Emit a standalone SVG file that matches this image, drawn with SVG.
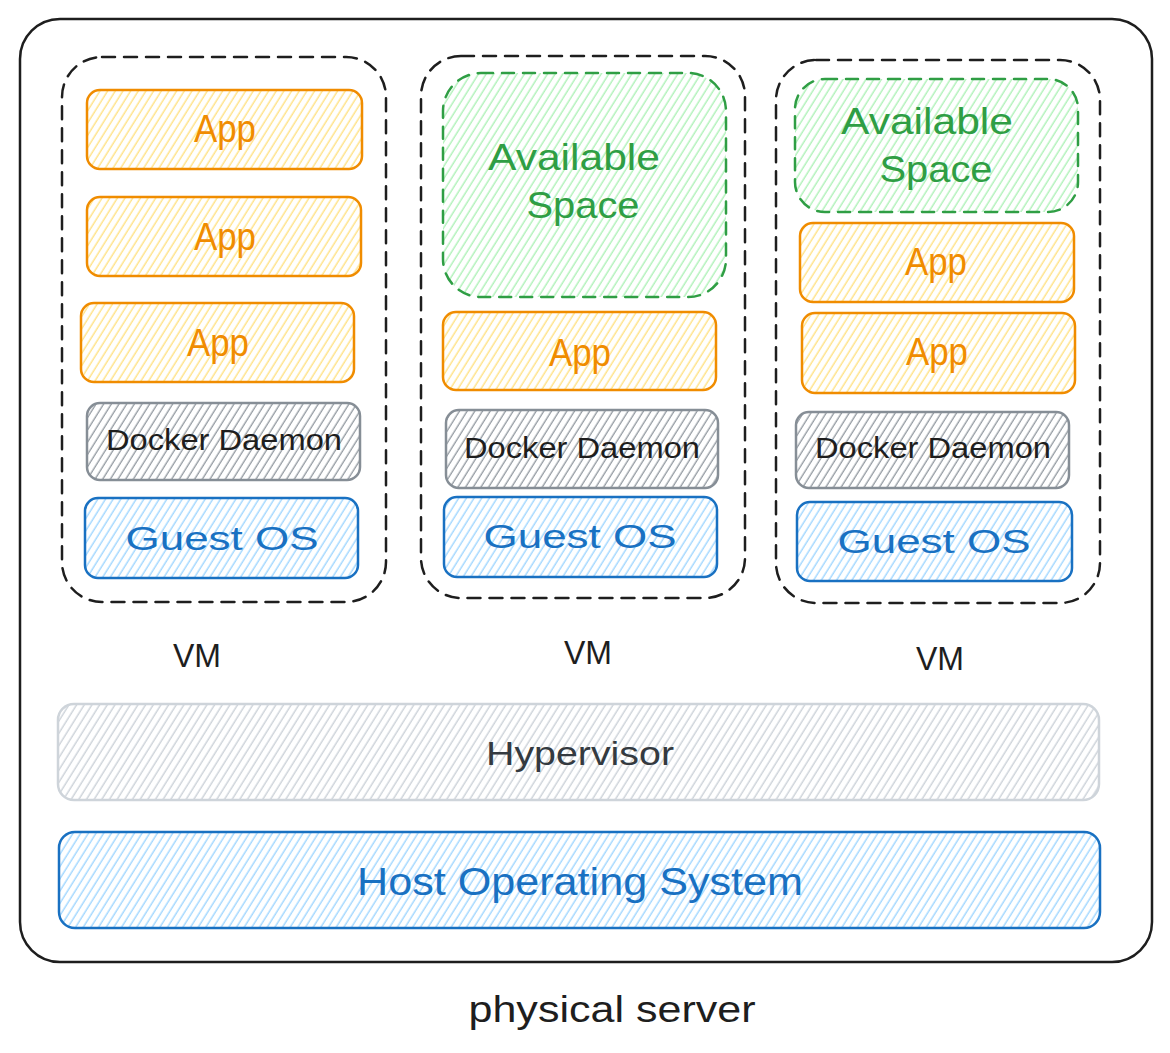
<svg xmlns="http://www.w3.org/2000/svg" width="1170" height="1053" viewBox="0 0 1170 1053">
  <defs>
    <pattern id="h-yellow" width="6.5" height="10" patternUnits="userSpaceOnUse" patternTransform="rotate(32)">
      <line x1="3" y1="0" x2="3" y2="10" stroke="#ffe38a" stroke-width="1.5"/>
    </pattern>
    <pattern id="h-blue" width="6.5" height="10" patternUnits="userSpaceOnUse" patternTransform="rotate(32)">
      <line x1="3" y1="0" x2="3" y2="10" stroke="#a5d8ff" stroke-width="1.5"/>
    </pattern>
    <pattern id="h-green" width="6.5" height="10" patternUnits="userSpaceOnUse" patternTransform="rotate(32)">
      <line x1="3" y1="0" x2="3" y2="10" stroke="#b2f2bb" stroke-width="1.5"/>
    </pattern>
    <pattern id="h-gray" width="6.5" height="10" patternUnits="userSpaceOnUse" patternTransform="rotate(32)">
      <line x1="3" y1="0" x2="3" y2="10" stroke="#868e96" stroke-width="1.2"/>
    </pattern>
    <pattern id="h-light" width="6.5" height="10" patternUnits="userSpaceOnUse" patternTransform="rotate(32)">
      <line x1="3" y1="0" x2="3" y2="10" stroke="#ced4da" stroke-width="1.5"/>
    </pattern>
  </defs>
  <style>
    text { font-family: "Liberation Sans", "DejaVu Sans", sans-serif; text-anchor: middle; }
    .outer { fill: #ffffff; stroke: #1e1e1e; stroke-width: 2.5; }
    .vm { fill: none; stroke: #1e1e1e; stroke-width: 2.5; stroke-dasharray: 13 9; stroke-linecap: round; }
    .app { fill: url(#h-yellow); stroke: #f08c00; stroke-width: 2.5; }
    .guest { fill: url(#h-blue); stroke: #1971c2; stroke-width: 2.5; }
    .docker { fill: url(#h-gray); stroke: #868e96; stroke-width: 2.5; }
    .avail { fill: url(#h-green); stroke: #2f9e44; stroke-width: 2.5; stroke-dasharray: 12 9; stroke-linecap: round; }
    .hyper { fill: url(#h-light); stroke: #ced4da; stroke-width: 2.5; }
    .host { fill: url(#h-blue); stroke: #1971c2; stroke-width: 2.5; }
    .t-app { fill: #f08c00; font-size: 38px; }
    .t-guest { fill: #1971c2; font-size: 34px; }
    .t-docker { fill: #1e1e1e; font-size: 30px; }
    .t-avail { fill: #2f9e44; font-size: 36px; }
    .t-vm { fill: #1e1e1e; font-size: 34px; }
    .t-hyper { fill: #343a40; font-size: 34px; }
    .t-host { fill: #1971c2; font-size: 38px; }
    .t-phys { fill: #1e1e1e; font-size: 36px; }
  </style>

  <g id="physical-server">
    <rect class="outer" x="20" y="19" width="1132" height="943" rx="40" ry="40"/>
    <text class="t-phys" x="612" y="1022" textLength="287" lengthAdjust="spacingAndGlyphs">physical server</text>
  </g>

  <g id="vm1">
    <rect class="vm" x="62" y="57" width="324" height="545" rx="40" ry="40"/>
    <text class="t-vm" x="197" y="667" textLength="48" lengthAdjust="spacingAndGlyphs">VM</text>
  </g>
  <g id="vm1-app1">
    <rect class="app" x="87" y="90" width="275" height="79" rx="13" ry="13"/>
    <text class="t-app" x="225" y="142" textLength="62" lengthAdjust="spacingAndGlyphs">App</text>
  </g>
  <g id="vm1-app2">
    <rect class="app" x="87" y="197" width="274" height="79" rx="13" ry="13"/>
    <text class="t-app" x="225" y="250" textLength="62" lengthAdjust="spacingAndGlyphs">App</text>
  </g>
  <g id="vm1-app3">
    <rect class="app" x="81" y="303" width="273" height="79" rx="13" ry="13"/>
    <text class="t-app" x="218" y="356" textLength="62" lengthAdjust="spacingAndGlyphs">App</text>
  </g>
  <g id="vm1-docker">
    <rect class="docker" x="87" y="403" width="273" height="77" rx="13" ry="13"/>
    <text class="t-docker" x="224" y="450" textLength="236" lengthAdjust="spacingAndGlyphs">Docker Daemon</text>
  </g>
  <g id="vm1-guest">
    <rect class="guest" x="85" y="498" width="273" height="80" rx="13" ry="13"/>
    <text class="t-guest" x="222" y="550" textLength="193" lengthAdjust="spacingAndGlyphs">Guest OS</text>
  </g>

  <g id="vm2">
    <rect class="vm" x="421" y="56" width="324" height="542" rx="40" ry="40"/>
    <text class="t-vm" x="588" y="664" textLength="48" lengthAdjust="spacingAndGlyphs">VM</text>
  </g>
  <g id="vm2-available">
    <rect class="avail" x="443" y="73" width="283" height="224" rx="38" ry="38"/>
    <text class="t-avail" x="574" y="170" textLength="172" lengthAdjust="spacingAndGlyphs">Available</text>
    <text class="t-avail" x="583" y="218" textLength="113" lengthAdjust="spacingAndGlyphs">Space</text>
  </g>
  <g id="vm2-app">
    <rect class="app" x="443" y="312" width="273" height="78" rx="13" ry="13"/>
    <text class="t-app" x="580" y="366" textLength="62" lengthAdjust="spacingAndGlyphs">App</text>
  </g>
  <g id="vm2-docker">
    <rect class="docker" x="446" y="410" width="272" height="78" rx="13" ry="13"/>
    <text class="t-docker" x="582" y="458" textLength="236" lengthAdjust="spacingAndGlyphs">Docker Daemon</text>
  </g>
  <g id="vm2-guest">
    <rect class="guest" x="444" y="497" width="273" height="80" rx="13" ry="13"/>
    <text class="t-guest" x="580" y="548" textLength="193" lengthAdjust="spacingAndGlyphs">Guest OS</text>
  </g>

  <g id="vm3">
    <rect class="vm" x="776" y="60" width="324" height="543" rx="40" ry="40"/>
    <text class="t-vm" x="940" y="670" textLength="48" lengthAdjust="spacingAndGlyphs">VM</text>
  </g>
  <g id="vm3-available">
    <rect class="avail" x="795" y="79" width="283" height="133" rx="30" ry="30"/>
    <text class="t-avail" x="927" y="134" textLength="172" lengthAdjust="spacingAndGlyphs">Available</text>
    <text class="t-avail" x="936" y="182" textLength="113" lengthAdjust="spacingAndGlyphs">Space</text>
  </g>
  <g id="vm3-app1">
    <rect class="app" x="800" y="223" width="274" height="79" rx="13" ry="13"/>
    <text class="t-app" x="936" y="275" textLength="62" lengthAdjust="spacingAndGlyphs">App</text>
  </g>
  <g id="vm3-app2">
    <rect class="app" x="802" y="313" width="273" height="80" rx="13" ry="13"/>
    <text class="t-app" x="937" y="365" textLength="62" lengthAdjust="spacingAndGlyphs">App</text>
  </g>
  <g id="vm3-docker">
    <rect class="docker" x="796" y="412" width="273" height="76" rx="13" ry="13"/>
    <text class="t-docker" x="933" y="458" textLength="236" lengthAdjust="spacingAndGlyphs">Docker Daemon</text>
  </g>
  <g id="vm3-guest">
    <rect class="guest" x="797" y="502" width="275" height="79" rx="13" ry="13"/>
    <text class="t-guest" x="934" y="553" textLength="193" lengthAdjust="spacingAndGlyphs">Guest OS</text>
  </g>

  <g id="hypervisor">
    <rect class="hyper" x="58" y="704" width="1041" height="96" rx="16" ry="16"/>
    <text class="t-hyper" x="580" y="765" textLength="188" lengthAdjust="spacingAndGlyphs">Hypervisor</text>
  </g>
  <g id="host-os">
    <rect class="host" x="59" y="832" width="1041" height="96" rx="16" ry="16"/>
    <text class="t-host" x="580" y="895" textLength="446" lengthAdjust="spacingAndGlyphs">Host Operating System</text>
  </g>

  <g id="connectors"></g>
</svg>
